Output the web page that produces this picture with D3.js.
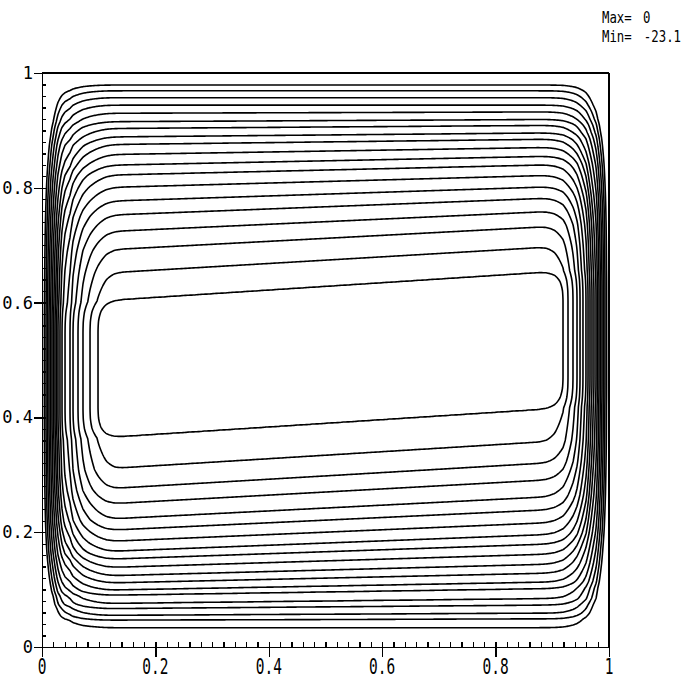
<!DOCTYPE html>
<html><head><meta charset="utf-8">
<script src="https://cdn.jsdelivr.net/npm/d3@7"></script>
<style>body{margin:0;background:#fff}svg{display:block}</style>
</head><body>
<svg id="chart" width="682" height="680"></svg>
<script>
// ---- data ----
const psiMax = 0, psiMin = -23.1;
const levels = [-1.1,-2.2,-3.3,-4.4,-5.5,-6.6,-7.7,-8.8,-9.9,-11.0,-12.1,-13.2,-14.3,-15.4,-16.5,-17.6,-18.7,-19.8,-20.9];
// height where each level (outer -> inner) crosses x = 0.5
const yTop = [0.979,0.969,0.957,0.944,0.931,0.917,0.906,0.892,0.880,0.864,0.847,0.831,0.811,0.789,0.767,0.741,0.712,0.674,0.628];
const yBot = [0.034,0.048,0.057,0.070,0.080,0.096,0.106,0.120,0.134,0.150,0.166,0.181,0.200,0.221,0.242,0.270,0.298,0.334,0.390];
// slope of each level line across the core
const tiltTop = [0,0,0,0,0.003,0.005,0.007,0.009,0.012,0.016,0.020,0.023,0.027,0.032,0.038,0.045,0.052,0.058,0.064];
const tiltBot = [0,0.003,0.005,0.008,0.011,0.015,0.018,0.022,0.026,0.030,0.034,0.038,0.042,0.046,0.050,0.054,0.058,0.061,0.064];
// x where each level crosses mid-height (outer -> inner)
const xLeft  = [0.0044,0.0071,0.0097,0.0123,0.0150,0.0176,0.0203,0.0229,0.0256,0.0282,0.0317,0.0353,0.0406,0.0494,0.0547,0.0635,0.0723,0.0847,0.0988];
const xRight = [0.9956,0.9929,0.9903,0.9877,0.9850,0.9824,0.9797,0.9771,0.9735,0.9700,0.9665,0.9630,0.9594,0.9541,0.9489,0.9436,0.9365,0.9277,0.9189];
// how the flat core is reached beyond the innermost crossing: [offset, fraction of Min]
const coreEdgeX = [[0.015,0.95],[0.03,0.98],[0.05,1]];
const coreEdgeY = [[0.018,0.95],[0.035,0.98],[0.055,1]];
// corner roundness (superellipse power) from the core (0) to the wall (1)
const cornerDepth = [0, 0.3, 0.6, 0.85, 1.1];
const cornerPower = [2.0, 1.7, 1.65, 2.0, 2.4];
const xTicks = [0,0.2,0.4,0.6,0.8,1];
const xTickLabels = ["0","0.2","0.4","0.6","0.8","1"];
const yTicks = [0,0.2,0.4,0.6,0.8,1];
const yTickLabels = ["0","0.2","0.4","0.6","0.8","1"];
const minorTicks = d3.range(0, 1.0001, 0.02);

// ---- layout ----
const svg = d3.select("#chart");
const x = d3.scaleLinear().domain([0,1]).range([42,609]);
const y = d3.scaleLinear().domain([0,1]).range([647,73]);

// ---- build field ----
const nx = 568, ny = 575;
const frac = levels.map(v => v/psiMin);
const n = levels.length;
const F = d3.scaleLinear()
  .domain([0, ...xLeft, ...coreEdgeX.map(d=>xLeft[n-1]+d[0]),
           ...coreEdgeX.slice().reverse().map(d=>xRight[n-1]-d[0]), ...xRight.slice().reverse(), 1])
  .range([0, ...frac, ...coreEdgeX.map(d=>d[1]),
          ...coreEdgeX.slice().reverse().map(d=>d[1]), ...frac.slice().reverse(), 0])
  .clamp(true);
const P = d3.scaleLinear().domain(cornerDepth).range(cornerPower).clamp(true);
const values = new Float64Array(nx*ny);
for (let i=0;i<nx;i++){
  const xv = i/(nx-1);
  const tops = yTop.map((t,k)=> t + tiltTop[k]*(xv-0.5));
  const bots = yBot.map((b,k)=> b + tiltBot[k]*(xv-0.5));
  const bIn = bots[n-1], tIn = tops[n-1];
  const G = d3.scaleLinear()
    .domain([0, ...bots, ...coreEdgeY.map(d=>bIn+d[0]), ...coreEdgeY.slice().reverse().map(d=>tIn-d[0]), ...tops.slice().reverse(), 1])
    .range([0, ...frac, ...coreEdgeY.map(d=>d[1]), ...coreEdgeY.slice().reverse().map(d=>d[1]), ...frac.slice().reverse(), 0])
    .clamp(true);
  const a = 1 - F(xv);
  for (let j=0;j<ny;j++){
    const b = 1 - G(1 - j/(ny-1));
    const p = P(Math.hypot(a,b));
    const dist = Math.pow(Math.pow(a,p) + Math.pow(b,p), 1/p);
    values[j*nx+i] = -psiMin * (1 - Math.min(1, dist));
  }
}
const contours = d3.contours().size([nx,ny]).smooth(true)
  .thresholds(levels.map(v=>-v))(values);
const proj = d3.geoTransform({point(gx,gy){
  this.stream.point(x((gx-0.5)/(nx-1)), y(1-(gy-0.5)/(ny-1)));
}});
const path = d3.geoPath(proj);
svg.append("g").selectAll("path").data(contours).join("path")
  .attr("d", path).attr("fill","none").attr("stroke","#000")
  .attr("stroke-width",1.6).attr("stroke-linejoin","round");

// ---- frame and axes ----
const ax = svg.append("g").attr("shape-rendering","crispEdges");
ax.append("g").attr("transform",`translate(0,${y(0)})`)
  .call(d3.axisBottom(x).tickValues(xTicks).tickSize(10).tickSizeOuter(0).tickFormat(""));
ax.append("g").attr("transform",`translate(0,${y(0)})`)
  .call(d3.axisBottom(x).tickValues(minorTicks).tickSize(-5).tickFormat(""))
  .select(".domain").remove();
ax.append("g").attr("transform",`translate(${x(0)},0)`)
  .call(d3.axisLeft(y).tickValues(yTicks).tickSize(8).tickSizeOuter(0).tickFormat(""));
ax.append("g").attr("transform",`translate(${x(0)},0)`)
  .call(d3.axisLeft(y).tickValues(minorTicks).tickSize(-4).tickFormat(""))
  .select(".domain").remove();
ax.append("line").attr("x1",x(0)).attr("x2",x(1)).attr("y1",y(1)).attr("y2",y(1));
ax.append("line").attr("x1",x(1)).attr("x2",x(1)).attr("y1",y(1)).attr("y2",y(0));
ax.selectAll("path,line").attr("stroke","#000").attr("stroke-width",1.3);

// ---- labels ----
const font = "'DejaVu Sans Mono', monospace";
svg.append("g").selectAll("text").data(xTicks).join("text")
  .attr("transform", d=>`translate(${x(d)},674) scale(1,1.5)`)
  .attr("text-anchor","middle").attr("font-family",font).attr("font-size",14.5)
  .text((d,i)=>xTickLabels[i]);
svg.append("g").selectAll("text").data(yTicks).join("text")
  .attr("x",33).attr("y",d=>y(d)+6)
  .attr("text-anchor","end").attr("font-family",font).attr("font-size",17)
  .text((d,i)=>yTickLabels[i]);
const info = svg.append("g").attr("font-family",font).attr("font-size",13);
info.append("text").attr("transform","translate(602,23) scale(0.95,1.2)").text("Max=");
info.append("text").attr("transform","translate(643,23) scale(0.95,1.2)").text(String(psiMax));
info.append("text").attr("transform","translate(602,42) scale(0.95,1.2)").text("Min=");
info.append("text").attr("transform","translate(681,42) scale(0.95,1.2)").attr("text-anchor","end").text(String(psiMin));
</script>
</body></html>
